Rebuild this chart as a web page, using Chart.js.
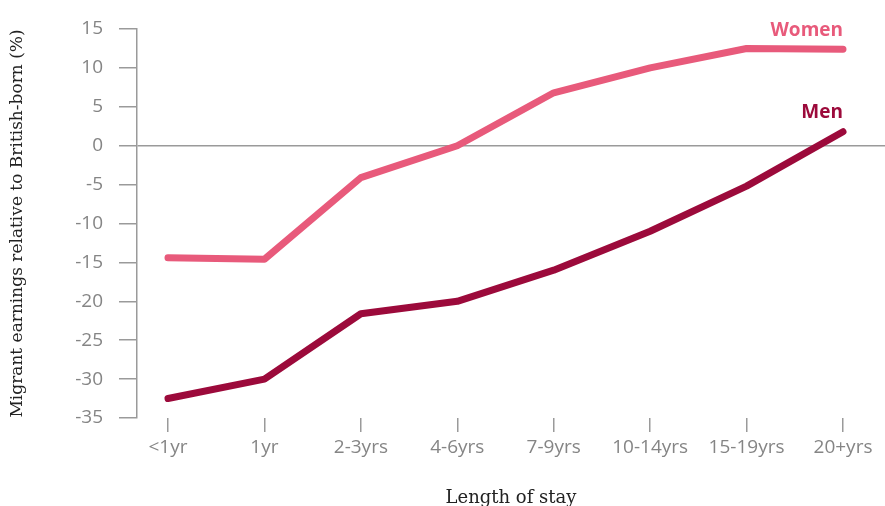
<!DOCTYPE html>
<html>
<head>
<meta charset="utf-8">
<script src="https://cdn.jsdelivr.net/npm/chart.js@4/dist/chart.umd.min.js"></script>
<style>
  html, body { margin: 0; padding: 0; background: #fff; overflow: hidden; }
  #wrap { position: relative; width: 885px; height: 516px; }
</style>
</head>
<body>
<div id="wrap"><canvas id="chart"></canvas></div>
<script>
// categories and values
const stayLabels = ["<1yr", "1yr", "2-3yrs", "4-6yrs", "7-9yrs", "10-14yrs", "15-19yrs", "20+yrs"];
const women = [-14.4, -14.6, -4.1, 0.0, 6.8, 10.0, 12.5, 12.4];
const men = [-32.5, -30.0, -21.6, -20.0, -16.0, -11.0, -5.2, 1.8];
const yTicks = [15, 10, 5, 0, -5, -10, -15, -20, -25, -30, -35];

const womenColor = "#e85a7b";
const menColor = "#9c0a3b";
const axisGrey = "#9a9a9a";
const tickFont = { family: "'Open Sans', sans-serif", size: 19 };

const toPoints = (arr) => arr.map((v, i) => ({ x: i, y: v }));

// series name drawn just above the last point of each line
const endLabels = {
  id: "endLabels",
  afterDatasetsDraw(chart) {
    const ctx = chart.ctx;
    ctx.save();
    ctx.font = "bold 19px 'Open Sans', sans-serif";
    ctx.textAlign = "right";
    ctx.textBaseline = "middle";
    chart.data.datasets.forEach((ds, i) => {
      const pts = chart.getDatasetMeta(i).data;
      const last = pts[pts.length - 1];
      ctx.fillStyle = ds.borderColor;
      ctx.fillText(ds.label, last.x, last.y - 19);
    });
    ctx.restore();
  }
};

new Chart(document.getElementById("chart"), {
  type: "line",
  data: {
    datasets: [
      { label: "Women", data: toPoints(women), borderColor: womenColor },
      { label: "Men", data: toPoints(men), borderColor: menColor }
    ]
  },
  options: {
    responsive: true,
    maintainAspectRatio: false,
    animation: false,
    layout: { padding: { top: 29, right: 0, left: 0, bottom: 0 } },
    elements: {
      line: { borderWidth: 7, borderCapStyle: "round", borderJoinStyle: "round", tension: 0 },
      point: { radius: 0 }
    },
    plugins: {
      legend: { display: false },
      tooltip: { enabled: false }
    },
    scales: {
      x: {
        type: "linear",
        min: -0.3215,
        max: 7.4356,
        afterBuildTicks: (s) => { s.ticks = stayLabels.map((_, i) => ({ value: i })); },
        afterFit: (s) => { s.height = 98; },
        border: { display: false },
        grid: { drawOnChartArea: false, tickLength: 14, color: axisGrey, lineWidth: 1.5 },
        ticks: {
          autoSkip: false,
          maxRotation: 0,
          padding: 4,
          color: "#858585",
          font: tickFont,
          callback: (v) => stayLabels[v]
        },
        title: {
          display: true,
          text: "Length of stay",
          color: "#222",
          font: { family: "'DejaVu Serif', serif", size: 18 },
          padding: { top: 0, bottom: 7 }
        }
      },
      y: {
        min: -35,
        max: 15,
        afterBuildTicks: (s) => { s.ticks = yTicks.map((v) => ({ value: v })); },
        afterFit: (s) => { s.width = 137; },
        border: { display: true, color: axisGrey, width: 1.5 },
        grid: {
          drawOnChartArea: true,
          tickLength: 18,
          lineWidth: 1.5,
          color: (c) => (c.tick && c.tick.value === 0 ? axisGrey : "rgba(0,0,0,0)"),
          tickColor: axisGrey
        },
        ticks: { padding: 16, color: "#858585", font: tickFont },
        title: {
          display: true,
          text: "Migrant earnings relative to British-born (%)",
          color: "#222",
          font: { family: "'DejaVu Serif', serif", size: 17 },
          padding: { top: 7, bottom: 0 }
        }
      }
    }
  },
  plugins: [endLabels]
});
</script>
</body>
</html>
